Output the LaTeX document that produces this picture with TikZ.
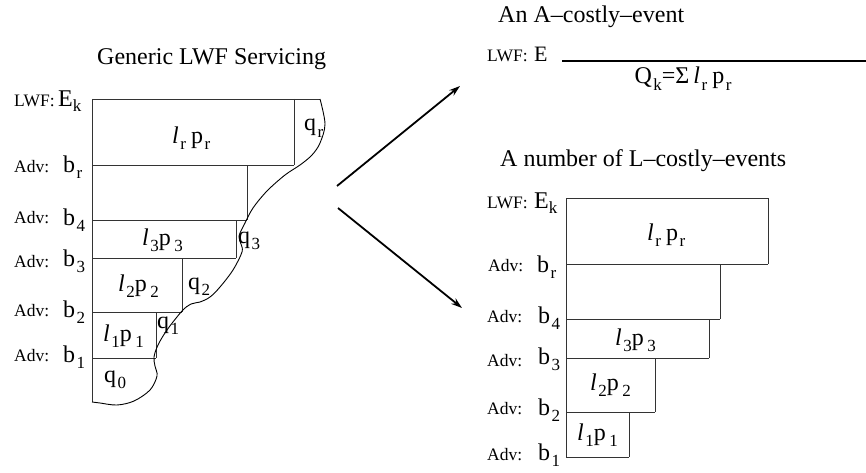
\documentclass[tikz,border=0pt]{standalone}
\usepackage{fontspec}
\setmainfont{Liberation Serif}
\usetikzlibrary{arrows.meta}
\newcommand\lsub[1]{\kern1.5pt\raisebox{-6.5pt}{\fontsize{17}{17}\selectfont #1}}
\newcommand\lpA[1]{\textit{l}\lsub{#1}\kern5pt p\lsub{#1}}
\newcommand\lpB[1]{\textit{l}\lsub{#1}p\kern2pt\lsub{#1}}
\begin{document}
\begin{tikzpicture}[x=1pt,y=-1pt,
  big/.style={font=\fontsize{24}{24}\selectfont,inner sep=0pt},
  mid/.style={font=\fontsize{22}{22}\selectfont,inner sep=0pt},
  tag/.style={font=\fontsize{17.5}{17.5}\selectfont,inner sep=0pt,anchor=base west},
  bw/.style={anchor=base west},
  box/.style={draw=black!80,line width=0.9pt},
  bound/.style={draw=black,line width=0.9pt},
  arr/.style={draw=black,line width=1.8pt,-{Stealth[length=11pt,width=7pt]}},
  heavy/.style={draw=black,line width=2.4pt}]
\useasboundingbox (0,0) rectangle (866,473);

% ---------- titles ----------
\node[big,bw] (t1) at (97,65) {Generic LWF Servicing};
\node[big,bw] (t2) at (498,23) {An A--costly--event};
\node[big,bw] (t3) at (500,166) {A number of L--costly--events};

% ---------- left diagram ----------
\draw[box] (92,99) -- (320,99);
\draw[box] (92,99) -- (92,402);
\draw[box] (294,99) -- (294,165);
\draw[box] (92,165) -- (294,165);
\draw[box] (247,165) -- (247,220);
\draw[box] (92,220) -- (247,220);
\draw[box] (236,220) -- (236,258);
\draw[box] (92,258) -- (236,258);
\draw[box] (182,258) -- (182,312);
\draw[box] (92,312) -- (182,312);
\draw[box] (156,312) -- (156,358);
\draw[box] (92,358) -- (156,358);

\draw[bound] plot[smooth,tension=0.55] coordinates {
 (320,99) (325,124) (320,143) (312,155) (300,165) (285,175) (267,191)
 (253,208) (245,223) (239,236) (241,244) (242,252) (233,270) (220,287)
 (210,297) (200,302) (191,304) (182,311) (167,330) (158,345) (154,357)
 (155,366) (157,376) (150,390) (134,401) (117,405) (100,403) (92,402)};

\node[tag] (lwf1) at (14,107) {LWF:};
\node[big,bw] (ek1) at (58,107) {E\kern0pt\raisebox{-5pt}{\fontsize{17}{17}\selectfont k}};
\node[tag] (adr) at (14,172) {Adv:};
\node[big,bw] (br) at (63,172) {b\lsub{r}};
\node[tag] (ad4) at (14,223) {Adv:};
\node[big,bw] (b4) at (63,225) {b\lsub{4}};
\node[tag] (ad3) at (14,267) {Adv:};
\node[big,bw] (b3) at (63,266) {b\lsub{3}};
\node[tag] (ad2) at (14,316) {Adv:};
\node[big,bw] (b2) at (63,317) {b\lsub{2}};
\node[tag] (ad1) at (14,361) {Adv:};
\node[big,bw] (b1) at (63,362) {b\lsub{1}};

\node[big,bw] (lpr) at (172,143) {\lpA{r}};
\node[big,bw] (qr) at (304,131) {q\lsub{r}};
\node[big,bw] (lp3) at (142,245) {\lpB{3}};
\node[big,bw] (q3) at (238,243) {q\lsub{3}};
\node[big,bw] (lp2) at (118,291) {\lpB{2}};
\node[big,bw] (q2) at (188,289) {q\lsub{2}};
\node[big,bw] (lp1) at (103,341) {\lpB{1}};
\node[big,bw] (q1) at (157,328) {q\lsub{1}};
\node[big,bw] (q0) at (104,382) {q\lsub{0}};

% ---------- arrows ----------
\coordinate (a1s) at (337,186);
\coordinate (a1e) at (460,86);
\coordinate (a2s) at (338,208);
\coordinate (a2e) at (462,308);
\draw[arr] (a1s) -- (a1e);
\draw[arr] (a2s) -- (a2e);

% ---------- top right ----------
\node[tag] (lwf2) at (487,62) {LWF:};
\node[mid,bw] (e2) at (534,62) {E};
\coordinate (h1) at (562,61);
\coordinate (h2) at (866,61);
\draw[heavy] (h1) -- (h2);
\node[big,anchor=base] (qk) at (683,84) {Q\lsub{k}=Σ\kern4pt\textit{l}\lsub{r}\kern5pt p\lsub{r}};

% ---------- right diagram ----------
\draw[box] (566,198) -- (768,198) -- (768,264);
\draw[box] (566,198) -- (566,457);
\draw[box] (566,264) -- (768,264);
\draw[box] (720,264) -- (720,319);
\draw[box] (566,319) -- (720,319);
\draw[box] (709,319) -- (709,358);
\draw[box] (566,358) -- (709,358);
\draw[box] (655,358) -- (655,412);
\draw[box] (566,412) -- (655,412);
\draw[box] (629,412) -- (629,457);
\draw[box] (566,457) -- (629,457);

\node[tag] (lwf3) at (487,208) {LWF:};
\node[big,bw] (ek3) at (534,208) {E\kern0pt\raisebox{-5pt}{\fontsize{17}{17}\selectfont k}};
\node[tag] (radr) at (488,271) {Adv:};
\node[big,bw] (rbr) at (537,272) {b\lsub{r}};
\node[tag] (rad4) at (487,322) {Adv:};
\node[big,bw] (rb4) at (538,323) {b\lsub{4}};
\node[tag] (rad3) at (487,366) {Adv:};
\node[big,bw] (rb3) at (538,364) {b\lsub{3}};
\node[tag] (rad2) at (487,414) {Adv:};
\node[big,bw] (rb2) at (538,415) {b\lsub{2}};
\node[tag] (rad1) at (487,460) {Adv:};
\node[big,bw] (rb1) at (538,460) {b\lsub{1}};

\node[big,bw] (rlpr) at (647,240) {\lpA{r}};
\node[big,bw] (rlp3) at (615,345) {\lpB{3}};
\node[big,bw] (rlp2) at (590,390) {\lpB{2}};
\node[big,bw] (rlp1) at (577,440) {\lpB{1}};
\end{tikzpicture}
\end{document}
